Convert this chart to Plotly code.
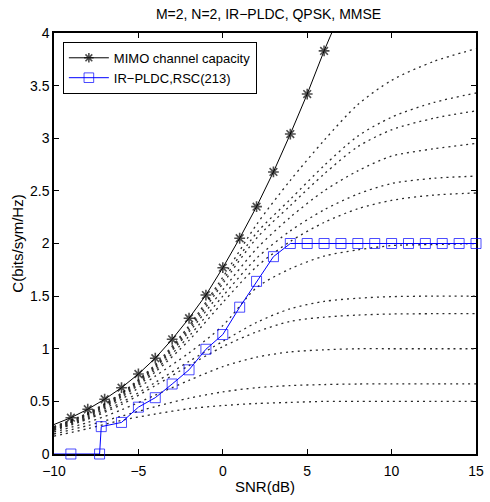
import plotly.graph_objects as go

# SNR grid (dB) for the rate curves of the individual coding rates
snr_grid = [-10, -8, -6, -4, -2, 0, 2, 4, 6, 8, 10, 12.5, 15]

# Achievable rate curves (bits/sym/Hz), one per code rate, highest first
rate_curves = [
    [0.26, 0.39, 0.58, 0.85, 1.22, 1.68, 2.18, 2.60, 2.98, 3.32, 3.55, 3.73, 3.85],
    [0.26, 0.385, 0.575, 0.84, 1.20, 1.65, 2.10, 2.42, 2.74, 3.02, 3.20, 3.34, 3.43],
    [0.255, 0.38, 0.57, 0.83, 1.18, 1.62, 2.05, 2.36, 2.66, 2.92, 3.08, 3.19, 3.26],
    [0.25, 0.375, 0.56, 0.82, 1.16, 1.56, 1.95, 2.25, 2.50, 2.69, 2.83, 2.90, 2.95],
    [0.245, 0.37, 0.55, 0.80, 1.12, 1.50, 1.86, 2.12, 2.32, 2.47, 2.57, 2.62, 2.64],
    [0.24, 0.36, 0.54, 0.78, 1.08, 1.44, 1.78, 2.02, 2.20, 2.33, 2.41, 2.46, 2.48],
    [0.235, 0.35, 0.52, 0.74, 0.96, 1.22, 1.58, 1.76, 1.88, 1.94, 1.98, 1.99, 2.00],
    [0.23, 0.34, 0.49, 0.68, 0.88, 1.07, 1.25, 1.38, 1.45, 1.48, 1.495, 1.50, 1.50],
    [0.225, 0.33, 0.47, 0.65, 0.84, 1.02, 1.16, 1.26, 1.30, 1.32, 1.33, 1.333, 1.333],
    [0.21, 0.30, 0.42, 0.56, 0.70, 0.83, 0.92, 0.97, 0.99, 1.00, 1.00, 1.00, 1.00],
    [0.19, 0.27, 0.36, 0.45, 0.53, 0.59, 0.63, 0.65, 0.66, 0.665, 0.667, 0.667, 0.667],
    [0.17, 0.24, 0.32, 0.38, 0.43, 0.46, 0.48, 0.49, 0.50, 0.50, 0.50, 0.50, 0.50],
]

# MIMO channel capacity
cap_snr = [-10, -9, -8, -7, -6, -5, -4, -3, -2, -1, 0, 1, 2, 3, 4, 5, 6, 6.45]
cap_val = [0.28, 0.345, 0.425, 0.52, 0.63, 0.76, 0.91, 1.09, 1.29, 1.51, 1.77,
           2.05, 2.35, 2.68, 3.04, 3.42, 3.83, 4.0]
cap_marked = [False] + [True] * 16 + [False]

# IR-PLDC with RSC(213)
pldc_snr = [-10, -9, -7.3, -7.2, -6, -5, -4, -3, -2, -1, 0, 1, 2, 3, 4,
            5, 6, 7, 8, 9, 10, 11, 12, 13, 14, 15]
pldc_val = [0, 0, 0, 0.26, 0.30, 0.445, 0.535, 0.665, 0.80, 0.995, 1.135, 1.395,
            1.64, 1.875, 2.0, 2.0, 2.0, 2.0, 2.0, 2.0, 2.0, 2.0, 2.0, 2.0, 2.0, 2.0]
pldc_marked = [False] + [True] * 25

x_ticks = [-10, -5, 0, 5, 10, 15]
x_ticktext = ["\u221210", "\u22125", "0", "5", "10", "15"]
y_ticks = [0, 0.5, 1, 1.5, 2, 2.5, 3, 3.5, 4]
y_ticktext = ["0", "0.5", "1", "1.5", "2", "2.5", "3", "3.5", "4"]

FONT = "Liberation Sans, Arial, Helvetica, sans-serif"

fig = go.Figure()

for curve in rate_curves:
    fig.add_trace(go.Scatter(
        x=snr_grid, y=curve, mode="lines", showlegend=False, hoverinfo="skip",
        line=dict(color="#2a2a2a", width=1.3, dash="2px,4px", shape="spline", smoothing=0.8),
    ))

fig.add_trace(go.Scatter(
    x=cap_snr, y=cap_val, mode="lines+markers", name="MIMO channel capacity",
    cliponaxis=False,
    line=dict(color="black", width=1),
    marker=dict(symbol="asterisk-open", size=[9 if m else 0 for m in cap_marked],
                color="black", line=dict(color="black", width=1.6)),
))

fig.add_trace(go.Scatter(
    x=pldc_snr, y=pldc_val, mode="lines+markers", name="IR\u2212PLDC,RSC(213)",
    cliponaxis=False,
    line=dict(color="#0000ff", width=1),
    marker=dict(symbol="square-open", size=[10 if m else 0 for m in pldc_marked],
                color="#0000ff", line=dict(color="#0000ff", width=1)),
))

axis_common = dict(
    showline=True, linecolor="black", linewidth=1.5, mirror="ticks",
    ticks="inside", ticklen=5, tickwidth=1, tickcolor="black",
    showgrid=False, zeroline=False, layer="below traces",
    tickfont=dict(family=FONT, size=14, color="black"),
)

fig.update_layout(
    width=490, height=502,
    margin=dict(l=54, r=6, t=33, b=48),
    paper_bgcolor="white", plot_bgcolor="white",
    font=dict(family=FONT, color="black"),
    title=dict(text="M=2, N=2, IR\u2212PLDC, QPSK, MMSE", x=0.548, xanchor="center",
               y=1 - 14 / 502, yanchor="middle", yref="container",
               font=dict(family=FONT, size=14, color="black")),
    xaxis=dict(range=[-10, 15], tickvals=x_ticks, ticktext=x_ticktext,
               ticklabelstandoff=3,
               title=dict(text="SNR(dB)", standoff=4, font=dict(family=FONT, size=15)),
               **axis_common),
    yaxis=dict(range=[0, 4], tickvals=y_ticks, ticktext=y_ticktext,
               title=dict(text="C(bits/sym/Hz)", standoff=3, font=dict(family=FONT, size=15)),
               **axis_common),
    legend=dict(x=0.021, y=0.979, xanchor="left", yanchor="top",
                bgcolor="white", bordercolor="black", borderwidth=1,
                font=dict(family=FONT, size=13, color="black"),
                tracegroupgap=0, itemwidth=40),
)

fig.write_html("out.html")
